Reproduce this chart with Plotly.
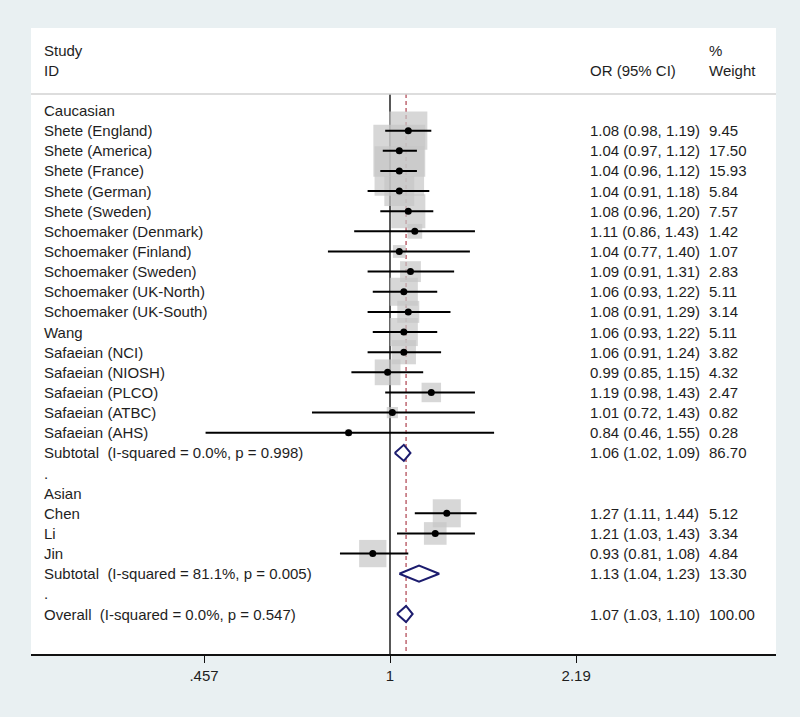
import math
import plotly.graph_objects as go

# ---------------- data ----------------
row_labels = [
    "Caucasian",
    "Shete (England)", "Shete (America)", "Shete (France)", "Shete (German)",
    "Shete (Sweden)", "Schoemaker (Denmark)", "Schoemaker (Finland)",
    "Schoemaker (Sweden)", "Schoemaker (UK-North)", "Schoemaker (UK-South)",
    "Wang", "Safaeian (NCI)", "Safaeian (NIOSH)", "Safaeian (PLCO)",
    "Safaeian (ATBC)", "Safaeian (AHS)",
    "Subtotal\u00a0 (I-squared = 0.0%, p = 0.998)",
    ".",
    "Asian",
    "Chen", "Li", "Jin",
    "Subtotal\u00a0 (I-squared = 81.1%, p = 0.005)",
    ".",
    "Overall\u00a0 (I-squared = 0.0%, p = 0.547)",
]
# row type: h=heading, s=study, d=diamond (pooled), b=blank
row_types = ["h"] + ["s"] * 16 + ["d", "b", "h"] + ["s"] * 3 + ["d", "b", "d"]
or_vals = [None, 1.08, 1.04, 1.04, 1.04, 1.08, 1.11, 1.04, 1.09, 1.06, 1.08, 1.06,
           1.06, 0.99, 1.19, 1.01, 0.84, 1.06, None, None, 1.27, 1.21, 0.93, 1.13,
           None, 1.07]
lo_vals = [None, 0.98, 0.97, 0.96, 0.91, 0.96, 0.86, 0.77, 0.91, 0.93, 0.91, 0.93,
           0.91, 0.85, 0.98, 0.72, 0.46, 1.02, None, None, 1.11, 1.03, 0.81, 1.04,
           None, 1.03]
hi_vals = [None, 1.19, 1.12, 1.12, 1.18, 1.20, 1.43, 1.40, 1.31, 1.22, 1.29, 1.22,
           1.24, 1.15, 1.43, 1.43, 1.55, 1.09, None, None, 1.44, 1.43, 1.08, 1.23,
           None, 1.10]
weights = [None, 9.45, 17.50, 15.93, 5.84, 7.57, 1.42, 1.07, 2.83, 5.11, 3.14, 5.11,
           3.82, 4.32, 2.47, 0.82, 0.28, 86.70, None, None, 5.12, 3.34, 4.84, 13.30,
           None, 100.00]
overall_or = 1.07
tick_vals = [0.457, 1, 2.19]
tick_text = [".457", "1", "2.19"]

# ---------------- style ----------------
FONT = "Liberation Sans, Arial, Helvetica, sans-serif"
FS = 15
TXT = "#1e1e1e"
BOX = "#c6c6c6"
NAVY = "#1c1c6e"
RED = "#b4505c"
BG = "#e9f0f2"

W, H = 800, 717
ML, MR, MT, MB = 31, 24, 28, 63
row_step = 20.14
y_top = -(110.5 - MT) / row_step
y_bot = (H - MB - 110.5) / row_step
px_per_log10 = 237.5 * math.log(10)
x_left = (ML - 390) / px_per_log10
x_right = (W - MR - 390) / px_per_log10
header_y = (94 - 110.5) / row_step

rows = list(range(len(row_labels)))
fig = go.Figure()

# reference lines (drawn first so boxes sit over them)
fig.add_trace(go.Scatter(x=[1, 1], y=[header_y, y_bot], mode="lines",
                         line=dict(color="#111111", width=1.4), hoverinfo="skip"))
fig.add_trace(go.Scatter(x=[overall_or, overall_or], y=[header_y, y_bot], mode="lines",
                         line=dict(color=RED, width=1.3, dash="4px,3px"), hoverinfo="skip"))

study_idx = [i for i in rows if row_types[i] == "s"]
# weight boxes
fig.add_trace(go.Scatter(
    x=[or_vals[i] for i in study_idx], y=study_idx, mode="markers",
    marker=dict(symbol="square", color=BOX, line=dict(width=0),
                size=[12.4 * math.sqrt(weights[i]) for i in study_idx]),
    hoverinfo="skip"))
# CI lines
ci_x, ci_y = [], []
for i in study_idx:
    ci_x += [lo_vals[i], hi_vals[i], None]
    ci_y += [i, i, None]
fig.add_trace(go.Scatter(x=ci_x, y=ci_y, mode="lines",
                         line=dict(color="#000000", width=2), hoverinfo="skip"))
# point estimates
fig.add_trace(go.Scatter(
    x=[or_vals[i] for i in study_idx], y=study_idx, mode="markers",
    marker=dict(symbol="circle", color="#000000", size=7), hoverinfo="skip"))
# pooled diamonds
for i in rows:
    if row_types[i] == "d":
        fig.add_trace(go.Scatter(
            x=[lo_vals[i], or_vals[i], hi_vals[i], or_vals[i], lo_vals[i]],
            y=[i, i - 0.4, i, i + 0.4, i],
            mode="lines", fill="toself", fillcolor="white",
            line=dict(color=NAVY, width=2), hoverinfo="skip"))

# header rule
fig.add_shape(type="line", xref="paper", yref="y", x0=0, x1=1, y0=header_y, y1=header_y,
              line=dict(color="#d2d2d2", width=1.5))

# text columns
col_label_x = (42 - ML) / (W - ML - MR)
col_or_x = (588 - ML) / (W - ML - MR)
col_w_x = (707 - ML) / (W - ML - MR)

def txt(x, y, s):
    fig.add_annotation(x=x, y=y, xref="paper", yref="y", text=s, showarrow=False,
                       xanchor="left", yanchor="middle",
                       font=dict(family=FONT, size=FS, color=TXT))

txt(col_label_x, -3, "Study")
txt(col_label_x, -2, "ID")
txt(col_or_x, -2, "OR (95% CI)")
txt(col_w_x, -3, "%")
txt(col_w_x, -2, "Weight")

for i in rows:
    txt(col_label_x, i, row_labels[i])
    if or_vals[i] is not None:
        txt(col_or_x, i, f"{or_vals[i]:.2f} ({lo_vals[i]:.2f}, {hi_vals[i]:.2f})")
        txt(col_w_x, i, f"{weights[i]:.2f}")

fig.update_layout(
    width=W, height=H, showlegend=False,
    margin=dict(l=ML, r=MR, t=MT, b=MB, pad=0),
    paper_bgcolor=BG, plot_bgcolor="white",
    font=dict(family=FONT, size=FS, color=TXT),
    xaxis=dict(type="log", range=[x_left, x_right], tickvals=tick_vals, ticktext=tick_text,
               showgrid=False, zeroline=False, showline=True, linecolor="#111111",
               linewidth=1.5, ticks="outside", ticklen=7, tickwidth=1.3,
               tickcolor="#111111", tickfont=dict(family=FONT, size=FS, color=TXT),
               fixedrange=True),
    yaxis=dict(range=[y_bot, y_top], showgrid=False, zeroline=False, showline=False,
               showticklabels=False, ticks="", fixedrange=True),
)

fig.write_html(
    "out.html",
    config={"displayModeBar": False},
    post_script=("document.body.style.margin='0';"
                 "document.body.style.overflow='hidden';"
                 "document.body.style.background='" + BG + "';"),
)
